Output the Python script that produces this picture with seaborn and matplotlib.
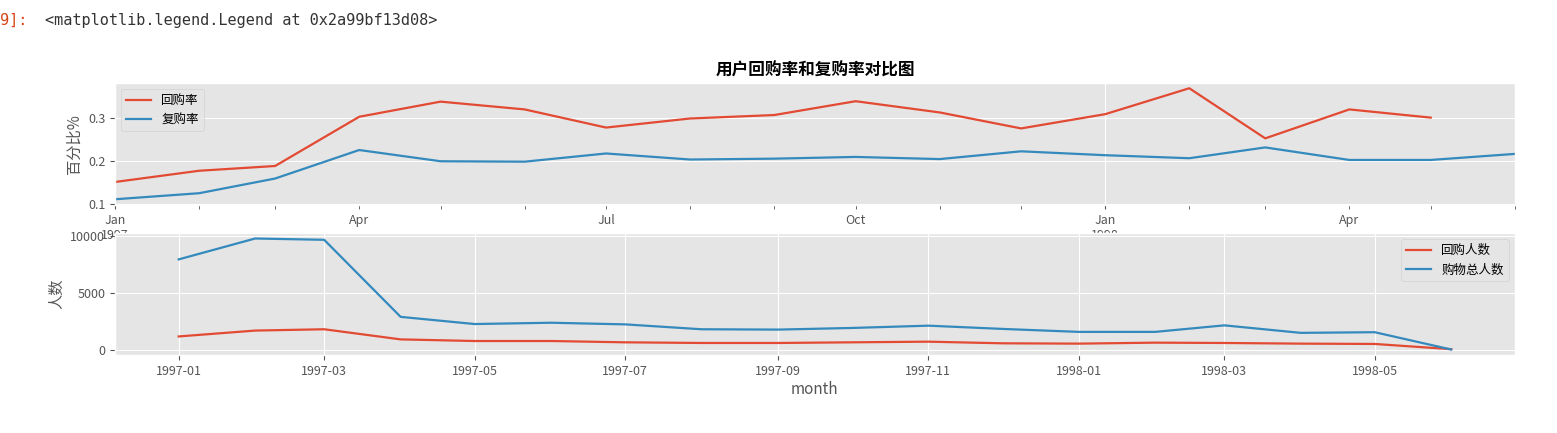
import pandas as pd
import numpy as np
import matplotlib
matplotlib.use("Agg")
import matplotlib.pyplot as plt
import matplotlib.dates as mdates
import matplotlib.ticker as mticker
import seaborn as sns

# estilo ggplot como en el notebook original
plt.style.use("ggplot")
plt.rcParams['font.family'] = ['Noto Sans CJK SC', 'DejaVu Sans']
plt.rcParams['axes.unicode_minus'] = False

# datos
months = pd.date_range("1997-01-01", "1998-06-01", freq="MS")
huigou_rate = [0.151, 0.177, 0.188, 0.302, 0.337, 0.319, 0.277, 0.298, 0.306,
               0.338, 0.312, 0.275, 0.308, 0.368, 0.252, 0.319, 0.300]
fugou_rate = [0.111, 0.125, 0.159, 0.225, 0.199, 0.198, 0.217, 0.203, 0.205,
              0.209, 0.204, 0.222, 0.213, 0.206, 0.231, 0.202, 0.202, 0.216]
huigou_users = [1200, 1714, 1829, 943, 800, 800, 686, 629, 629,
                686, 743, 600, 571, 657, 629, 571, 543, 86]
total_users = [7943, 9771, 9657, 2914, 2286, 2400, 2257, 1829, 1800,
               1943, 2143, 1860, 1600, 1600, 2171, 1514, 1571, 57]

df_rate = pd.DataFrame({
    'month': months,
    'huigou': huigou_rate + [np.nan],
    'fugou': fugou_rate,
})
df_users = pd.DataFrame({
    'month': months,
    'huigou': huigou_users,
    'total': total_users,
})

red = '#E24A33'
blue = '#348ABD'

fig = plt.figure(figsize=(15.57, 4.33), dpi=100)
ax1 = fig.add_axes([0.0739, 0.527, 0.899, 0.282])
ax2 = fig.add_axes([0.0739, 0.180, 0.899, 0.282])

# --- gráfico 1: tasas ---
sns.lineplot(data=df_rate, x='month', y='huigou', color=red, label='回购率', ax=ax1, lw=1.6)
sns.lineplot(data=df_rate, x='month', y='fugou', color=blue, label='复购率', ax=ax1, lw=1.6)
ax1.set_xlim(months[0], months[-1])
ax1.xaxis.set_major_locator(mdates.MonthLocator(bymonth=[1]))
ax1.xaxis.set_major_formatter(mticker.FuncFormatter(
    lambda v, p: mdates.num2date(v).strftime('%b\n%Y')))
ax1.xaxis.set_minor_locator(mdates.MonthLocator())
ax1.xaxis.set_minor_formatter(mticker.FuncFormatter(
    lambda v, p: mdates.num2date(v).strftime('%b') if mdates.num2date(v).month in (4, 7, 10) else ''))
ax1.tick_params(axis='x', which='both', labelsize=9, length=3)
ax1.tick_params(axis='y', labelsize=9)
ax1.set_yticks([0.1, 0.2, 0.3])
ax1.set_yticklabels(['0.1', '0.2', '0.3'])
ax1.set_xlabel('')
ax1.set_ylabel('百分比%', fontsize=11)
ax1.set_title('用户回购率和复购率对比图', fontsize=12, fontweight='bold', pad=5)
ax1.legend(loc='upper left', fontsize=9)

# --- gráfico 2: número de usuarios ---
sns.lineplot(data=df_users, x='month', y='huigou', color=red, label='回购人数', ax=ax2, lw=1.6)
sns.lineplot(data=df_users, x='month', y='total', color=blue, label='购物总人数', ax=ax2, lw=1.6)
ax2.xaxis.set_major_locator(mdates.MonthLocator(interval=2))
ax2.xaxis.set_major_formatter(mdates.DateFormatter('%Y-%m'))
ax2.tick_params(axis='both', labelsize=9)
ax2.set_yticks([0, 5000, 10000])
ax2.set_xlabel('month', fontsize=11, labelpad=2)
ax2.set_ylabel('人数', fontsize=11)
ax2.legend(loc='upper right', fontsize=9)

# salida de la celda del notebook
fig.text(0.0, 0.953, '9]:', color='#D84315', fontsize=11, family='DejaVu Sans Mono', va='center')
fig.text(0.029, 0.953, '<matplotlib.legend.Legend at 0x2a99bf13d08>', color='#333333',
         fontsize=11, family='DejaVu Sans Mono', va='center')

fig.savefig('out.png', dpi=100)
